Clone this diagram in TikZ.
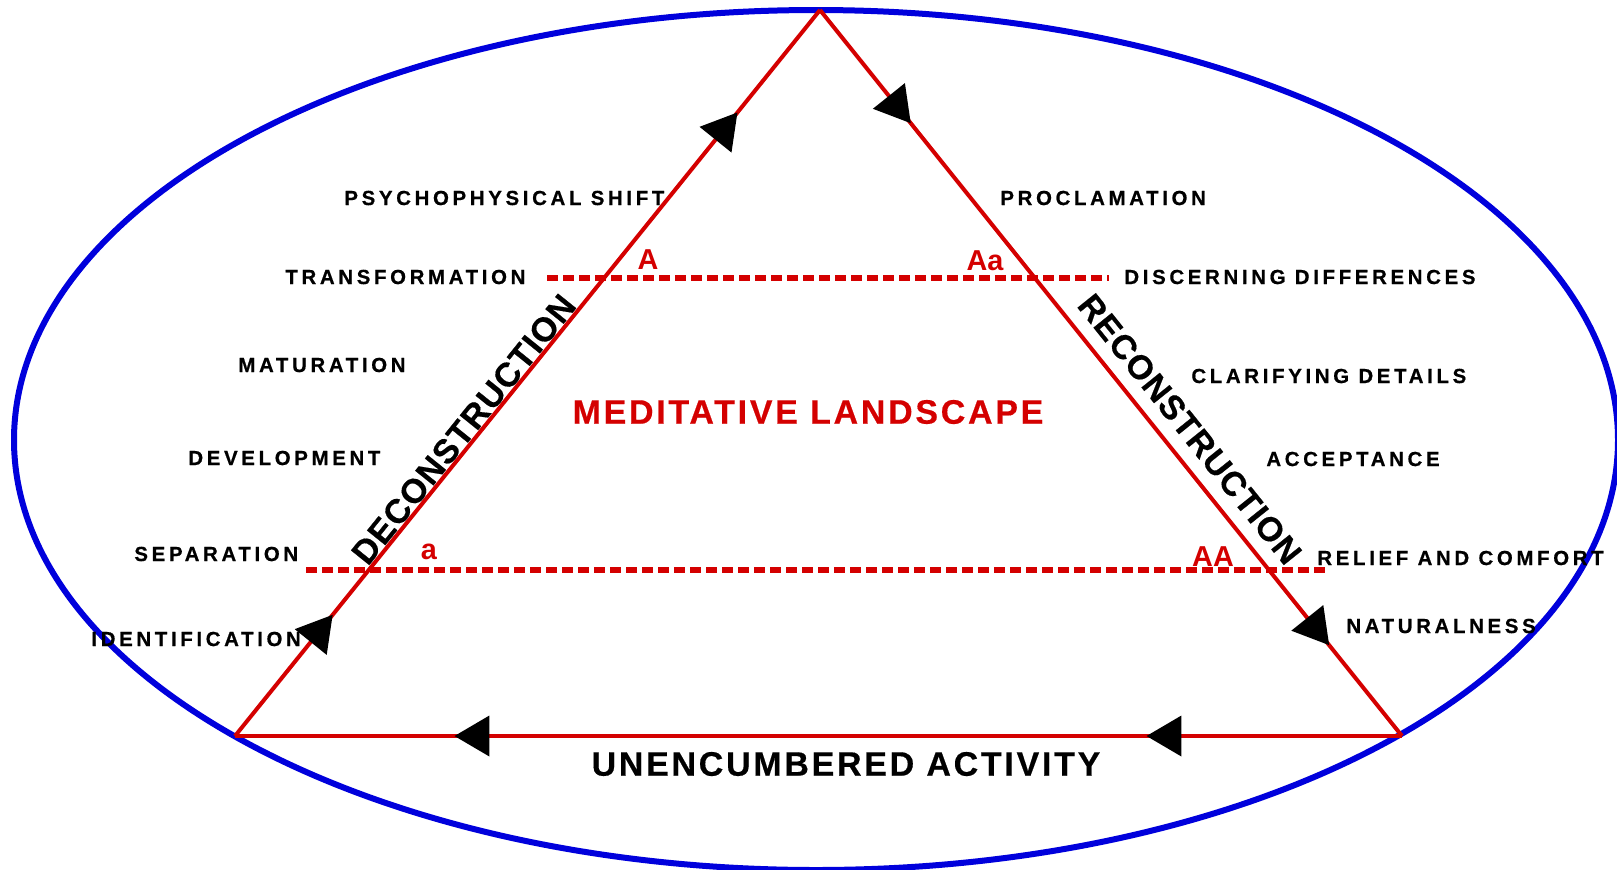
\documentclass[tikz,border=0pt]{standalone}
\usepackage{fontspec}
\setmainfont{Liberation Sans}
\newfontfamily\stagefont[LetterSpace=18, BoldFeatures={FakeBold=0.6}]{Liberation Sans}
\newfontfamily\headfont[LetterSpace=8, BoldFeatures={FakeBold=0.4}]{Liberation Sans}
\newfontfamily\sidefont[LetterSpace=3, BoldFeatures={FakeBold=0.4}]{Liberation Sans}
\usetikzlibrary{arrows.meta, decorations.markings, positioning}
\definecolor{tred}{RGB}{212,0,0}
\definecolor{tblue}{RGB}{0,0,220}
\tikzstyle{stage} = [inner sep=0pt, anchor=west, font=\stagefont\bfseries\fontsize{10.2}{12}\selectfont]
\tikzstyle{bigtext} = [inner sep=0pt, font=\headfont\bfseries\fontsize{17}{20}\selectfont]
\tikzstyle{sidetext} = [sloped, above, font=\sidefont\bfseries\fontsize{17}{20}\selectfont]
\tikzstyle{tag} = [inner sep=0pt, text=tred, font=\bfseries\fontsize{14.4}{16}\selectfont]
\tikzstyle{side} = [draw=tred, line width=2pt, postaction={decorate}]
\tikzstyle{level} = [draw=tred, line width=2.75pt, dash pattern=on 5.5pt off 2.5pt]
\tikzstyle{rim} = [draw=tblue, line width=3pt]
\tikzset{>={Triangle[length=17.5pt, width=20pt, color=black]}}
\usepackage{xcolor}

\begin{document}
\begin{tikzpicture}[x=0.5pt, y=-0.5pt]
    \useasboundingbox (0,0) rectangle (1617,869);
    % outer field
    \draw [rim] (816,440) ellipse [x radius=802, y radius=430];

    % triangle corners
    \coordinate (apex) at (820,10);
    \coordinate (left) at (235,736);
    \coordinate (right) at (1402,736);

    % level lines
    \coordinate (upL) at (547,278);
    \coordinate (upR) at (1109,278);
    \coordinate (loL) at (306,570);
    \coordinate (loR) at (1325,570);
    \draw [level] (upL) -- (upR);
    \draw [level] (loL) -- (loR);

    % sides with flow marks
    \draw [side, decoration={markings,
        mark=at position 0.167 with {\arrow{>}},
        mark=at position 0.859 with {\arrow{>}}}] (left) -- (apex);
    \draw [side, decoration={markings,
        mark=at position 0.156 with {\arrow{>}},
        mark=at position 0.875 with {\arrow{>}}}] (apex) -- (right);
    \draw [side, decoration={markings,
        mark=at position 0.219 with {\arrow{>}},
        mark=at position 0.812 with {\arrow{>}}}] (right) -- (left);

    \path (left) -- node [sidetext, pos=0.41, inner sep=1pt] (decon) {DECONSTRUCTION} (apex);
    \path (apex) -- node [sidetext, pos=0.60, inner sep=7pt] (recon) {RECONSTRUCTION} (right);

    \node (land) [bigtext, text=tred] at (808,412) {MEDITATIVE LANDSCAPE};
    \node (activity) [bigtext] at (846,764) {UNENCUMBERED ACTIVITY};

    \node (tagA) [tag] at (648,260) {A};
    \node (tagAa) [tag] at (985,261) {Aa};
    \node (taga) [tag] at (429,552) {a};
    \node (tagAA) [tag] at (1213,557) {AA};

    % left stages
    \node (shift) [stage] at (344,198) {PSYCHOPHYSICAL SHIFT};
    \node (transf) [stage] at (285,277) {TRANSFORMATION};
    \node (matur) [stage] at (238,365) {MATURATION};
    \node (devel) [stage] at (188,458) {DEVELOPMENT};
    \node (separ) [stage] at (134,554) {SEPARATION};
    \node (ident) [stage] at (91,639) {IDENTIFICATION};

    % right stages
    \node (procl) [stage] at (1000,198) {PROCLAMATION};
    \node (discern) [stage] at (1124,277) {DISCERNING DIFFERENCES};
    \node (clarif) [stage] at (1191,376) {CLARIFYING DETAILS};
    \node (accept) [stage] at (1266,459) {ACCEPTANCE};
    \node (relief) [stage] at (1317,558) {RELIEF AND COMFORT};
    \node (natur) [stage] at (1346,626) {NATURALNESS};
\end{tikzpicture}
\end{document}
